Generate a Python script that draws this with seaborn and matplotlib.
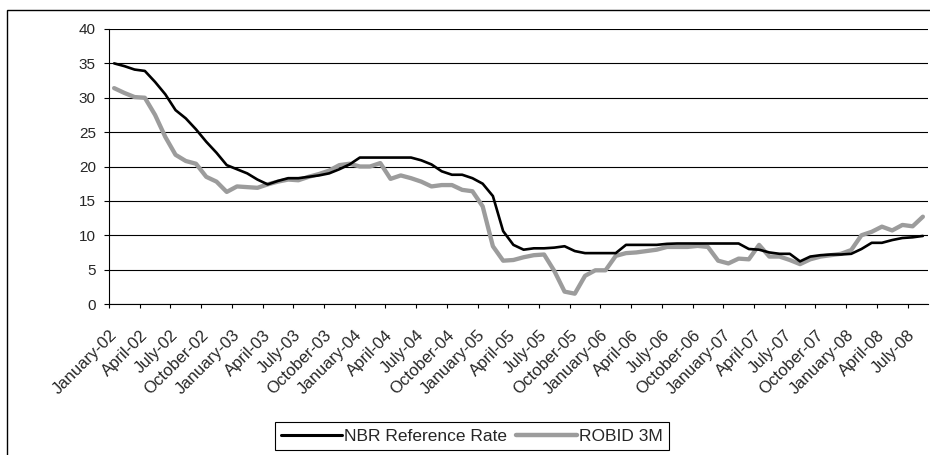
import matplotlib
matplotlib.use("Agg")
import matplotlib.pyplot as plt
from matplotlib.patches import Rectangle
from matplotlib.lines import Line2D
import pandas as pd
import seaborn as sns

sns.set_style("white")
plt.rcParams["font.family"] = ["Liberation Sans", "DejaVu Sans"]

# monthly data, January 2002 .. August 2008
nbr_rate = [35.0, 34.6, 34.1, 33.9, 32.3, 30.5, 28.2, 27.0, 25.4, 23.6, 22.0, 20.2,
            19.6, 19.0, 18.1, 17.4, 17.9, 18.3, 18.3, 18.5, 18.7, 19.0, 19.6, 20.3,
            21.3, 21.3, 21.3, 21.3, 21.3, 21.3, 20.9, 20.3, 19.3, 18.8, 18.8, 18.3,
            17.5, 15.7, 10.6, 8.6, 7.9, 8.1, 8.1, 8.2, 8.4, 7.7, 7.4, 7.4,
            7.4, 7.4, 8.6, 8.6, 8.6, 8.6, 8.75, 8.8, 8.8, 8.8, 8.8, 8.8,
            8.8, 8.8, 8.0, 7.9, 7.5, 7.3, 7.3, 6.2, 6.9, 7.1, 7.2, 7.2,
            7.3, 8.0, 8.9, 8.9, 9.3, 9.6, 9.7, 9.9]
robid_3m = [31.4, 30.7, 30.1, 30.0, 27.5, 24.3, 21.7, 20.8, 20.4, 18.5, 17.8, 16.3,
            17.1, 17.0, 16.9, 17.4, 17.8, 18.1, 18.0, 18.5, 18.9, 19.4, 20.2, 20.4,
            20.0, 20.0, 20.5, 18.2, 18.7, 18.3, 17.8, 17.1, 17.3, 17.3, 16.6, 16.4,
            14.2, 8.4, 6.3, 6.4, 6.8, 7.1, 7.2, 4.8, 1.8, 1.5, 4.1, 4.9,
            4.9, 7.0, 7.4, 7.5, 7.7, 7.9, 8.3, 8.3, 8.3, 8.45, 8.3, 6.3,
            5.9, 6.6, 6.5, 8.6, 6.9, 6.9, 6.4, 5.8, 6.5, 6.9, 7.1, 7.3,
            7.85, 10.0, 10.5, 11.25, 10.7, 11.5, 11.3, 12.7]
tick_labels = ["January-02", "April-02", "July-02", "October-02",
               "January-03", "April-03", "July-03", "October-03",
               "January-04", "April-04", "July-04", "October-04",
               "January-05", "April-05", "July-05", "October-05",
               "January-06", "April-06", "July-06", "October-06",
               "January-07", "April-07", "July-07", "October-07",
               "January-08", "April-08", "July-08"]
series_names = ["NBR Reference Rate", "ROBID 3M"]

n = len(nbr_rate)
df_nbr = pd.DataFrame({"month": range(n), "rate": nbr_rate})
df_robid = pd.DataFrame({"month": range(n), "rate": robid_3m})

fig = plt.figure(figsize=(9.3, 4.55), dpi=100)
ax = fig.add_axes([109 / 930, 1 - 304 / 455, (928 - 109) / 930, (304 - 29) / 455])

grey = "#9c9c9c"
sns.lineplot(data=df_robid, x="month", y="rate", ax=ax, color=grey, lw=3.1, zorder=3)
sns.lineplot(data=df_nbr, x="month", y="rate", ax=ax, color="black", lw=1.9, zorder=4)

ax.set_xlim(-0.5, n - 0.5)
ax.set_ylim(0, 40)
ax.set_yticks(range(0, 41, 5))
ax.set_xlabel("")
ax.set_ylabel("")
ax.grid(axis="y", color="black", lw=0.8)
ax.set_axisbelow(True)
for side in ["top", "right"]:
    ax.spines[side].set_visible(False)
for side in ["left", "bottom"]:
    ax.spines[side].set_color("black")
    ax.spines[side].set_linewidth(0.8)

# tick marks on category boundaries, labels hang from them
ax.set_xticks([i - 0.5 for i in range(0, n, 3)])
ax.set_xticklabels(tick_labels, rotation=45, ha="right", va="top",
                   rotation_mode="anchor", fontsize=12)
ax.tick_params(axis="x", direction="out", length=3, color="black", width=0.8,
               pad=14)
ax.tick_params(axis="y", direction="out", length=3.5, color="black", width=0.8,
               labelsize=11, pad=6)
ax.tick_params(bottom=True, left=True)

# chart area border
fig.patches.append(Rectangle((7 / 930, -0.05), 1.0, 1 - 10 / 455 + 0.05,
                             transform=fig.transFigure, fill=False,
                             ec="black", lw=1.0))

handles = [Line2D([], [], color="black", lw=2.2),
           Line2D([], [], color=grey, lw=3.2)]
leg = fig.legend(handles, series_names, loc="center", ncol=2,
                 bbox_to_anchor=(472 / 930, 1 - 436 / 455), fontsize=12.5,
                 frameon=True, fancybox=False, framealpha=1, edgecolor="black",
                 handlelength=3.5, handletextpad=0.15, columnspacing=0.5,
                 borderpad=0.35, borderaxespad=0)
leg.get_frame().set_linewidth(0.8)

fig.savefig("out.png", dpi=100)
